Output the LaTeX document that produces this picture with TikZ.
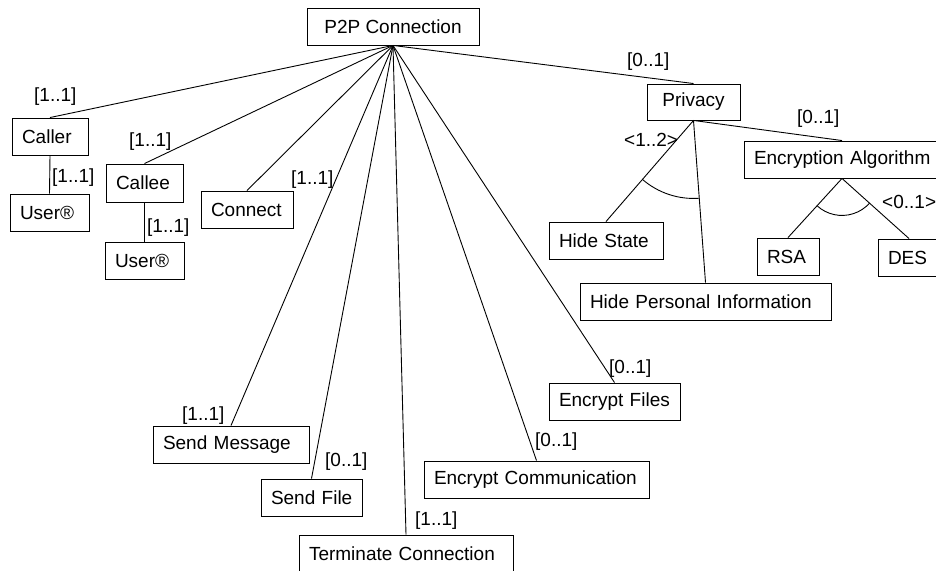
\documentclass[tikz,border=0pt]{standalone}
\usepackage{fontspec}
\setmainfont{Liberation Sans}
\usetikzlibrary{calc}
\begin{document}
\begin{tikzpicture}[x=1pt,y=1pt,
  every node/.style={font=\fontsize{19}{22}\selectfont},
  box/.style={draw, line width=0.9pt, minimum height=37pt, inner xsep=0pt, inner ysep=0pt,
    text width=#1, align=left, execute at begin node={\hspace*{10pt}}},
  cbox/.style={draw, line width=0.9pt, minimum height=37pt, inner xsep=0pt, inner ysep=0pt, align=center},
  lbl/.style={anchor=west, inner sep=0pt},
  conn/.style={line width=0.9pt}]
\useasboundingbox (0,0) rectangle (936,570);
\clip (0,0) rectangle (936,570);
% nodes
\node[cbox, minimum width=172pt] (p2p) at (393,543.5) {P2P Connection};
\node[box=76pt] (caller) at (50,433.5) {Caller};
\node[box=79pt] (user1) at (49.5,357.5) {User®};
\node[box=77pt, minimum height=38pt] (callee) at (144.5,387) {Callee};
\node[box=79pt] (user2) at (144.5,309.5) {User®};
\node[box=92pt] (connect) at (247,360.5) {Connect};
\node[box=156pt] (sendmsg) at (231,125.5) {Send Message};
\node[box=101pt] (sendfile) at (311.5,72.5) {Send File};
\node[box=214pt] (term) at (406,16.5) {Terminate Connection};
\node[box=131pt] (encfiles) at (614.5,168.5) {Encrypt Files};
\node[box=225pt] (enccomm) at (536.5,90.5) {Encrypt Communication};
\node[cbox, minimum width=93pt, minimum height=36pt] (priv) at (693.5,468) {Privacy};
\node[box=196pt] (enc) at (842,410.5) {Encryption Algorithm};
\node[box=114pt] (hs) at (606,329.5) {Hide State};
\node[box=251pt] (hpi) at (705.5,268.5) {Hide Personal Information};
\node[box=62pt] (rsa) at (788,313.5) {RSA};
\node[box=62pt] (des) at (909,312.5) {DES};
% connectors
\foreach \t in {caller,callee,connect,sendmsg,sendfile,term,enccomm,encfiles,priv}
  \draw[conn] (p2p.south) -- (\t.north);
\draw[conn] (caller.south) -- (user1.north);
\draw[conn] (callee.south) -- (user2.north);
\draw[conn] (priv.south) -- (enc.north);
\draw[conn] (priv.south) -- (hs.north);
\draw[conn] (priv.south) -- (hpi.north);
\draw[conn] (enc.south) -- (rsa.north);
\draw[conn] (enc.south) -- (des.north);
% group arcs
\draw[conn] let \p1=($(hs.north)-(priv.south)$), \p2=($(hpi.north)-(priv.south)$),
  \n1={atan2(\y1,\x1)}, \n2={atan2(\y2,\x2)} in
  ($(priv.south)+(\n1:78pt)$) arc[start angle=\n1, end angle=\n2, radius=78pt];
\draw[conn] let \p1=($(rsa.north)-(enc.south)$), \p2=($(des.north)-(enc.south)$),
  \n1={atan2(\y1,\x1)}, \n2={atan2(\y2,\x2)} in
  ($(enc.south)+(\n1:37pt)$) arc[start angle=\n1, end angle=\n2, radius=37pt];
% labels
\node[lbl] (l1) at (34,473) {[1..1]};
\node[lbl] (l2) at (129,428) {[1..1]};
\node[lbl] (l3) at (52,392) {[1..1]};
\node[lbl] (l4) at (147,342) {[1..1]};
\node[lbl] (l5) at (291,390) {[1..1]};
\node[lbl] (l6) at (182,154) {[1..1]};
\node[lbl] (l7) at (325,108) {[0..1]};
\node[lbl] (l8) at (415,49) {[1..1]};
\node[lbl] (l9) at (609,201) {[0..1]};
\node[lbl] (l10) at (535,128) {[0..1]};
\node[lbl] (l11) at (627,508) {[0..1]};
\node[lbl] (l12) at (797,451) {[0..1]};
\node[lbl] (l13) at (624,430) {<1..2>};
\node[lbl] (l14) at (882,368) {<0..1>};
\end{tikzpicture}
\end{document}
